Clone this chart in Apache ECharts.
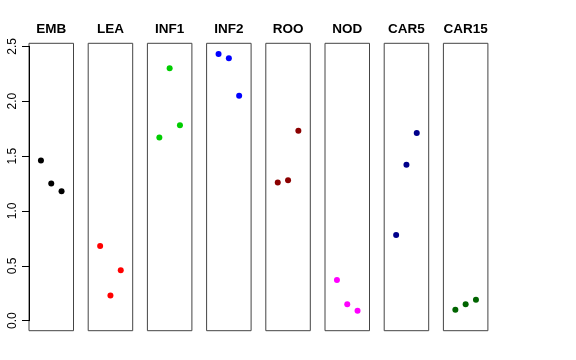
<!DOCTYPE html>
<html>
<head>
<meta charset="utf-8">
<script src="https://cdn.jsdelivr.net/npm/echarts@6/dist/echarts.min.js"></script>
<style>html,body{margin:0;padding:0;background:#fff;}#c{width:576px;height:360px;}</style>
</head>
<body>
<div id="c"></div>
<script>
var categories = ['EMB', 'LEA', 'INF1', 'INF2', 'ROO', 'NOD', 'CAR5', 'CAR15'];
var EMB = [1.46, 1.25, 1.18];
var LEA = [0.68, 0.23, 0.46];
var INF1 = [1.67, 2.30, 1.78];
var INF2 = [2.43, 2.39, 2.05];
var ROO = [1.26, 1.28, 1.73];
var NOD = [0.37, 0.15, 0.09];
var CAR5 = [0.78, 1.42, 1.71];
var CAR15 = [0.10, 0.15, 0.19];
var yTicks = [0, 0.5, 1.0, 1.5, 2.0, 2.5];
var seriesValues = [EMB, LEA, INF1, INF2, ROO, NOD, CAR5, CAR15];
var colors = ['#000000', '#FF0000', '#00CD00', '#0000FF', '#8B0000', '#FF00FF', '#00008B', '#006400'];

(function () {
var chart = echarts.init(document.getElementById('c'));
var grids = [], xAxes = [], yAxes = [], series = [], titles = [];
var left0 = 29, step = 59.2, w = 44.5, gTop = 43.3, gH = 287.4;
var FONT = 'Liberation Sans, Arial, Helvetica, sans-serif';
categories.forEach(function (name, i) {
  var l = left0 + step * i;
  grids.push({left: l, top: gTop, width: w, height: gH, show: true, borderColor: '#444', borderWidth: 1});
  xAxes.push({type: 'value', gridIndex: i, min: -0.16, max: 4.16, show: false});
  yAxes.push({type: 'value', gridIndex: i, min: -0.091, max: 2.527, show: false});
  series.push({
    type: 'scatter', xAxisIndex: i, yAxisIndex: i, symbol: 'circle', symbolSize: 6,
    itemStyle: {color: colors[i], opacity: 1},
    data: seriesValues[i].map(function (v, k) { return [k + 1, v]; }),
    silent: true
  });
  titles.push({text: name, left: l + w / 2, top: 22, textAlign: 'center', padding: 0,
    textStyle: {fontFamily: FONT, fontWeight: 'bold', fontSize: 13.5, color: '#000'}});
});
grids.push({left: left0, top: 46.3, width: w, height: 274.4, show: false});
xAxes.push({type: 'value', gridIndex: 8, show: false, min: 0, max: 1});
yAxes.push({
  type: 'value', gridIndex: 8, min: yTicks[0], max: yTicks[yTicks.length - 1], interval: 0.5,
  axisLine: {show: true, lineStyle: {color: '#000', width: 1}},
  axisTick: {show: true, length: 7, lineStyle: {color: '#000', width: 1}},
  splitLine: {show: false},
  axisLabel: {rotate: 90, margin: 10, fontFamily: FONT, fontSize: 12, color: '#000',
    formatter: function (v) { return v.toFixed(1); }}
});
series.push({type: 'scatter', xAxisIndex: 8, yAxisIndex: 8, data: [], silent: true});

chart.setOption({
  animation: false,
  backgroundColor: '#fff',
  title: titles,
  grid: grids,
  xAxis: xAxes,
  yAxis: yAxes,
  series: series
});
})();
</script>
</body>
</html>
